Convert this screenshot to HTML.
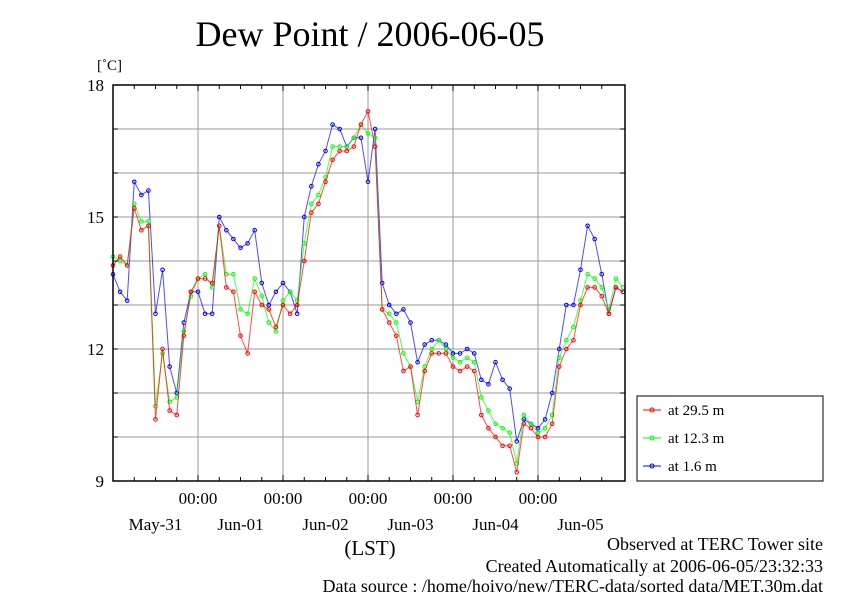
<!DOCTYPE html>
<html><head><meta charset="utf-8"><style>
body{margin:0;background:#fff}
svg text{font-family:"Liberation Serif",serif;fill:#000}
</style></head><body>
<svg width="842" height="595" viewBox="0 0 842 595" xmlns="http://www.w3.org/2000/svg">
<rect width="842" height="595" fill="#fff"/>
<text x="370" y="46" font-size="36" text-anchor="middle">Dew Point / 2006-06-05</text>
<text x="97" y="70" font-size="15">[˚C]</text>
<g id="grid"></g>
<g id="series"></g>
<rect x="113" y="85" width="512" height="396" fill="none" stroke="#000" stroke-width="1.5"/>
<g id="axes"></g>
<text x="370" y="555" font-size="21" text-anchor="middle">(LST)</text>
<g>
<rect x="637" y="396" width="186" height="85" fill="#fff" stroke="#000"/>
<g id="legend"></g>
</g>
<text x="823" y="550" font-size="18" text-anchor="end">Observed at TERC Tower site</text>
<text x="823" y="572" font-size="18" text-anchor="end">Created Automatically at 2006-06-05/23:32:33</text>
<text x="823" y="594" font-size="18" text-anchor="end" dy="-2">Data source : /home/hoivo/new/TERC-data/sorted  data/MET.30m.dat</text>
</svg>
<script>
// hours since May-31 00:00, every 2 hours
const hours = Array.from({length:73},(_,i)=>i*2);
const red29 = [13.9,14.1,13.9,15.2,14.7,14.8,10.4,12.0,10.6,10.5,12.3,13.3,13.6,13.6,13.5,14.8,13.4,13.3,12.3,11.9,13.3,13.0,12.9,12.5,13.0,12.8,13.0,14.0,15.1,15.3,15.8,16.3,16.5,16.5,16.6,17.1,17.4,16.6,12.9,12.6,12.3,11.5,11.6,10.5,11.5,11.9,11.9,11.9,11.6,11.5,11.6,11.5,10.5,10.2,10.0,9.8,9.8,9.2,10.3,10.2,10.0,10.0,10.3,11.6,12.0,12.2,13.0,13.4,13.4,13.2,12.8,13.4,13.3];
const green12 = [14.1,14.0,13.9,15.3,14.9,14.9,10.7,11.9,10.8,10.9,12.4,13.2,13.6,13.7,13.4,14.8,13.7,13.7,12.9,12.8,13.6,13.2,12.6,12.4,13.1,13.3,13.1,14.4,15.3,15.5,15.9,16.6,16.6,16.6,16.8,17.1,16.9,16.8,12.9,12.8,12.6,11.9,11.6,10.8,11.6,12.0,12.2,12.0,11.8,11.7,11.8,11.7,10.9,10.6,10.3,10.2,10.1,9.4,10.5,10.3,10.1,10.2,10.5,11.8,12.2,12.5,13.1,13.7,13.6,13.4,12.9,13.6,13.4];
const blue16 = [13.7,13.3,13.1,15.8,15.5,15.6,12.8,13.8,11.6,11.0,12.6,13.3,13.3,12.8,12.8,15.0,14.7,14.5,14.3,14.4,14.7,13.5,13.0,13.3,13.5,13.3,12.8,15.0,15.7,16.2,16.5,17.1,17.0,16.6,16.8,16.8,15.8,17.0,13.5,13.0,12.8,12.9,12.6,11.7,12.1,12.2,12.2,12.1,11.9,11.9,12.0,11.9,11.3,11.2,11.7,11.3,11.1,9.9,10.4,10.3,10.2,10.4,11.0,12.0,13.0,13.0,13.8,14.8,14.5,13.7,12.8,13.4,13.3];
const yTicks = [9,12,15,18];
const dayLabels = ["May-31","Jun-01","Jun-02","Jun-03","Jun-04","Jun-05"];
const legendLabels = ["at 29.5 m","at 12.3 m","at 1.6 m"];

const NS="http://www.w3.org/2000/svg";
const X0=113,X1=623,Y0=481,Y1=85;
const xs=h=>X0+(X1-X0)*h/144;
const ys=v=>Y0-(Y0-Y1)*(v-9)/9;
function mk(t,a,p){const e=document.createElementNS(NS,t);for(const k in a)e.setAttribute(k,a[k]);p.appendChild(e);return e;}
const grid=document.getElementById('grid'),axes=document.getElementById('axes');
for(let v=10;v<18;v++){const l=mk('line',{x1:X0,x2:625,y1:ys(v),y2:ys(v),stroke:'#999','stroke-width':1},grid);

}
for(let d=1;d<6;d++){const l=mk('line',{x1:xs(d*24),x2:xs(d*24),y1:Y1,y2:Y0,stroke:'#999','stroke-width':1},grid);

}
for(let h=6;h<144;h+=6){const len=h%24==0?6:4;
mk('line',{x1:xs(h),x2:xs(h),y1:Y0,y2:Y0-len,stroke:'#000'},axes);
mk('line',{x1:xs(h),x2:xs(h),y1:Y1,y2:Y1+len,stroke:'#000'},axes);}
for(let v=10;v<18;v++){mk('line',{x1:X0,x2:X0+5,y1:ys(v),y2:ys(v),stroke:'#000'},axes);mk('line',{x1:625,x2:620,y1:ys(v),y2:ys(v),stroke:'#000'},axes);}
yTicks.forEach(v=>{const t=mk('text',{x:104,y:ys(v)+6,'font-size':17,'text-anchor':'end'},axes);t.textContent=v;

});
for(let d=1;d<6;d++){const t=mk('text',{x:xs(d*24),y:504,'font-size':17,'text-anchor':'middle'},axes);t.textContent='00:00';

}
dayLabels.forEach((s,i)=>{const t=mk('text',{x:xs(i*24+12),y:530,'font-size':17,'text-anchor':'middle'},axes);t.textContent=s;

});
const ser=document.getElementById('series');
const sets=[[blue16,'#00f','series-1-6m'],[green12,'#0f0','series-12-3m'],[red29,'#f00','series-29-5m']];
sets.forEach(([arr,c,n])=>{const g=mk('g',{},ser);


mk('polyline',{points:arr.map((v,i)=>xs(hours[i])+','+ys(v)).join(' '),fill:'none',stroke:c,'stroke-width':1,opacity:0.7},g);
arr.forEach((v,i)=>{const p=mk('circle',{cx:xs(hours[i]),cy:ys(v),r:1.8,fill:'none',stroke:c,'stroke-width':1},g);

});});
const leg=document.getElementById('legend');const lc=['#f00','#0f0','#00f'];
legendLabels.forEach((s,i)=>{const y=410+i*28;
mk('line',{x1:643,x2:661,y1:y,y2:y,stroke:lc[i]},leg);mk('circle',{cx:652,cy:y,r:2,fill:'none',stroke:lc[i]},leg);
const t=mk('text',{x:668,y:y+5,'font-size':15},leg);t.textContent=s;

});
</script>
</body></html>
